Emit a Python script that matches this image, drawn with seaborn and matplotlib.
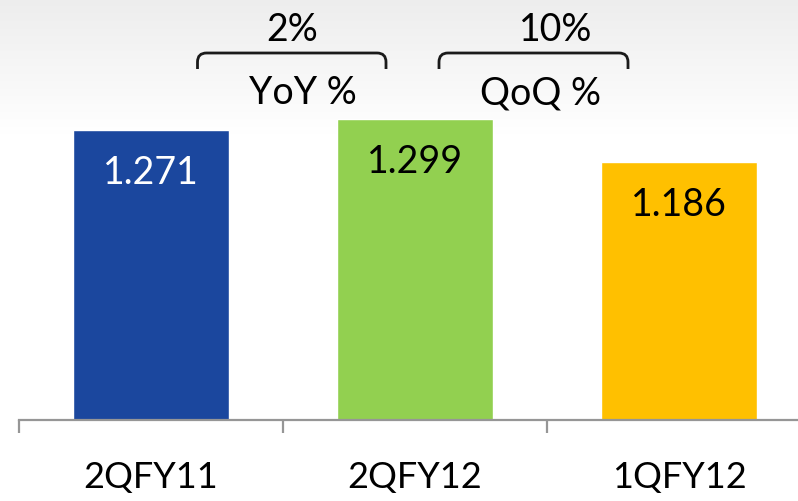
import numpy as np
import pandas as pd
import matplotlib
matplotlib.use("Agg")
import matplotlib.pyplot as plt
from matplotlib.path import Path
from matplotlib.patches import PathPatch
import seaborn as sns

# ---- data ----
categories = ["2QFY11", "2QFY12", "1QFY12"]
values = [1.271, 1.299, 1.186]
value_labels = ["1.271", "1.299", "1.186"]
bar_colors = ["#1B479E", "#92D050", "#FFC000"]
label_colors = ["white", "black", "black"]
change_values = ["2%", "10%"]
change_names = ["YoY %", "QoQ %"]

sns.set_theme(style="white")
plt.rcParams["font.family"] = ["Lato", "DejaVu Sans"]

W, H, DPI = 798, 502, 100
fig = plt.figure(figsize=(W / DPI, H / DPI), dpi=DPI)
fig.patch.set_facecolor("white")

# background gradient (light grey at top fading to white)
bg = fig.add_axes([0, 0, 1, 1], zorder=0)
yy = np.linspace(0, 1, H)[:, None]  # 0 top -> 1 bottom
grad = np.clip(0.93 + (1 - 0.93) * (yy * H / 135.0), 0.93, 1.0)
grad = np.repeat(grad, 4, axis=1)
bg.imshow(np.dstack([grad, grad, grad]), aspect="auto", extent=[0, 1, 0, 1],
          interpolation="bilinear")
bg.set_axis_off()

# main axes
left_px, axis_px = 19, 421
cat_w = 264
ax = fig.add_axes([left_px / W, (H - axis_px) / H, 3 * cat_w / W, axis_px / H], zorder=1)
ax.set_facecolor("none")

df = pd.DataFrame({"cat": categories, "val": values})
sns.barplot(data=df, x="cat", y="val", hue="cat", palette=bar_colors,
            legend=False, width=0.59, saturation=1, ax=ax)

ax.set_xlim(-0.5, 2.5)
ymin = 0.5
px_per_unit = 376.2
ax.set_ylim(ymin, ymin + axis_px / px_per_unit)

for sp in ["left", "right", "top"]:
    ax.spines[sp].set_visible(False)
ax.spines["bottom"].set_color("#969696")
ax.spines["bottom"].set_linewidth(1.6)
ax.set_yticks([])
ax.set_xlabel("")
ax.set_ylabel("")
ax.set_xticks(range(len(categories)))
ax.set_xticklabels(categories, fontsize=26, color="black")
ax.tick_params(axis="x", which="major", length=0, pad=28.5)
ax.set_xticks([-0.5, 0.5, 1.5, 2.5], minor=True)
ax.tick_params(axis="x", which="minor", length=9.4, width=1.6, color="#969696",
               direction="out", bottom=True)

# value labels inside bars
for i, (v, t, c) in enumerate(zip(values, value_labels, label_colors)):
    ax.annotate(t, (i, v), xytext=(0, -38.2), textcoords="offset points",
                ha="center", va="baseline", fontsize=27, color=c)

# helpers for layout positions (pixels -> data)
def xd(px):
    return (px - left_px) / cat_w - 0.5

def yd(py):
    return ymin + (axis_px - py) / px_per_unit

def brace(x0, x1, ytop, ybot, r_px=9):
    rx = r_px / cat_w
    ry = r_px / px_per_unit
    verts = [(x0, ybot), (x0, ytop - ry), (x0, ytop), (x0 + rx, ytop),
             (x1 - rx, ytop), (x1, ytop), (x1, ytop - ry), (x1, ybot)]
    codes = [Path.MOVETO, Path.LINETO, Path.CURVE3, Path.CURVE3,
             Path.LINETO, Path.CURVE3, Path.CURVE3, Path.LINETO]
    ax.add_patch(PathPatch(Path(verts, codes), fill=False, lw=2.0,
                           edgecolor="#1a1a1a", clip_on=False, capstyle="butt"))

brace(xd(197.5), xd(386), yd(54), yd(70))
brace(xd(439), xd(628), yd(54), yd(70))

for xc, t in zip([292, 556], change_values):
    ax.text(xd(xc), yd(41), t, ha="center", va="baseline", fontsize=27,
            color="black", clip_on=False)
for xc, t in zip([303, 541], change_names):
    ax.text(xd(xc), yd(104), t, ha="center", va="baseline", fontsize=27,
            color="black", clip_on=False)

fig.savefig("out.png", dpi=DPI)
